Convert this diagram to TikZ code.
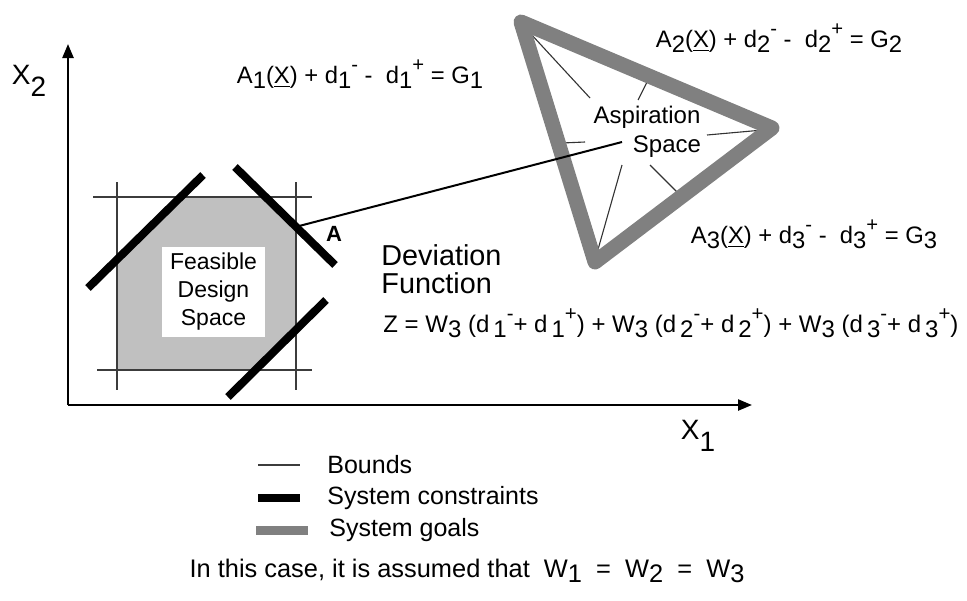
\documentclass[tikz,border=0pt]{standalone}
\usepackage{fontspec}
\setmainfont{Liberation Sans}
\usetikzlibrary{arrows.meta, positioning}
\definecolor{goalgray}{RGB}{128,128,128}
\definecolor{feasgray}{RGB}{192,192,192}
\definecolor{boundgray}{RGB}{60,60,60}
\newcommand{\lo}[1]{\raisebox{-0.2em}{#1}}
\newcommand{\dn}[1]{\raisebox{-0.45em}{#1}}
\newcommand{\hi}[1]{\raisebox{0.5em}{\scalebox{0.85}{#1}}}
\tikzset{
  bound/.style={line width=0.7pt, color=boundgray},
  constraint/.style={line width=4pt, color=black},
  goal/.style={line width=7.5pt, color=goalgray, line join=round},
  ray/.style={line width=0.55pt, color=black!80},
  axis/.style={-{Triangle[length=7pt,width=5.5pt]}, line width=1.2pt},
  eqn/.style={font=\fontsize{11.9}{13}\selectfont, inner sep=0pt},
  axlabel/.style={font=\fontsize{14}{16}\selectfont, inner sep=0pt},
  legtext/.style={font=\fontsize{12.5}{14}\selectfont, anchor=west, inner sep=0pt}
}

\begin{document}
\begin{tikzpicture}[x=0.5pt, y=-0.5pt]
  \useasboundingbox (0,0) rectangle (967,600);
  % feasible region
  \fill[feasgray] (117,259.5) -- (180.6,197) -- (265.6,197) -- (296,226.8)
    -- (296,329.7) -- (255.3,370) -- (117,370) -- cycle;
  % axes
  \coordinate (orig) at (68,405);
  \coordinate (ytip) at (68,44);
  \coordinate (xtip) at (752,405);
  \draw[axis] (orig) -- (ytip);
  \draw[axis] (orig) -- (xtip);
  \node[axlabel] (xtwo) at (29,81) {X\dn{2}};
  \node[axlabel] (xone) at (698,436) {X\dn{1}};
  % bounds
  \draw[bound] (93,197) -- (312,197);
  \draw[bound] (97,370) -- (312,370);
  \draw[bound] (117,182) -- (117,390);
  \draw[bound] (296,182) -- (296,390);
  % system constraints
  \draw[constraint] (88,288) -- (203,175);
  \draw[constraint] (235,167) -- (335,265);
  \draw[constraint] (326,300) -- (228,397);
  \node[fill=white, minimum width=51.5pt, minimum height=45pt, inner sep=0pt,
    align=center, font=\fontsize{11.5}{14}\selectfont] (feas) at (213.5,292)
    {Feasible\\Design\\Space};
  \coordinate (ptA) at (296,226.8);
  \node[font=\fontsize{11}{13}\bfseries, inner sep=0pt] (lblA) at (334,234) {A};
  % aspiration space
  \draw[ray] (530,33) -- (590,98);
  \draw[ray] (647,82) -- (638,100);
  \draw[ray] (707,135) -- (763,130);
  \draw[ray] (650,165) -- (677,192);
  \draw[ray] (622,165) -- (597,253);
  \draw[ray] (562,143) -- (585,142);
  \draw[goal] (521,22) -- (772,128) -- (595,262) -- cycle;
  \node[eqn, font=\fontsize{12}{14}\selectfont] (asp) at (647,117) {Aspiration};
  \node[eqn, font=\fontsize{12}{14}\selectfont] (spc) at (667,147) {Space};
  \coordinate (aspEnd) at (622,142);
  \draw[line width=1pt] (ptA) -- (aspEnd);
  % goals
  \node[eqn] (goal1) at (360,74)
    {A\lo{1}(\underline{X}) + d\lo{1}\hi{-} -\ \ d\lo{1}\hi{+} = G\lo{1}};
  \node[eqn] (goal2) at (779,38)
    {A\lo{2}(\underline{X}) + d\lo{2}\hi{-} -\ \ d\lo{2}\hi{+} = G\lo{2}};
  \node[eqn] (goal3) at (814,234)
    {A\lo{3}(\underline{X}) + d\lo{3}\hi{-} -\ \ d\lo{3}\hi{+} = G\lo{3}};
  % deviation function
  \node[inner sep=0pt, anchor=west, align=left,
    font=\fontsize{14.4}{14}\selectfont] (devf) at (381,269) {Deviation\\Function};
  \node[eqn, anchor=west, font=\fontsize{12}{14}\selectfont] (zfun) at (383,323)
    {Z = W\lo{3} (d\,\lo{1}\hi{-}+ d\,\lo{1}\hi{+}) + W\lo{3} (d\,\lo{2}\hi{-}+ d\,\lo{2}\hi{+})
     + W\lo{3} (d\,\lo{3}\hi{-}+ d\,\lo{3}\hi{+})};
  % legend
  \draw[bound] (258,465) -- (300,465);
  \draw[constraint] (258,498) -- (300,498);
  \draw[line width=4.5pt, color=goalgray] (256,530) -- (308,530);
  \node[legtext] (lbound) at (327,465) {Bounds};
  \node[legtext] (lcons) at (327,498) {System constraints};
  \node[legtext] (lgoal) at (329,530) {System goals};
  \node[inner sep=0pt, font=\fontsize{12.7}{14}\selectfont] (note) at (467,571)
    {In this case, it is assumed that\ \ W\lo{1}\ \ =\ \ W\lo{2}\ \ =\ \ W\lo{3}};
\end{tikzpicture}
\end{document}
